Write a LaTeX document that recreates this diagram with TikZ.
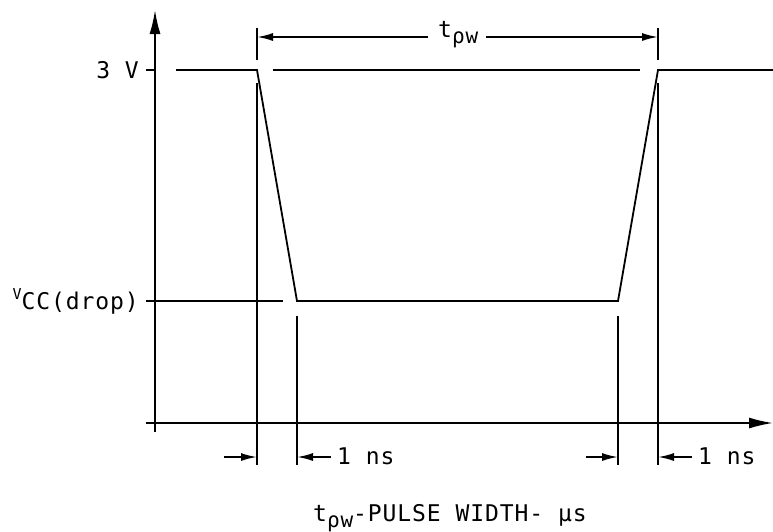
\documentclass[tikz,border=0pt]{standalone}
\usepackage{fontspec}
\setmonofont[LetterSpace=4]{DejaVu Sans Mono}
\usetikzlibrary{arrows.meta}
\tikzset{
  ln/.style={line width=1.8pt, line cap=butt},
  dimarr/.style={ln, -{Latex[length=16pt,width=8pt]}},
  axarr/.style={ln, -{Latex[length=24pt,width=11pt]}},
  lbl/.style={inner sep=0pt, font=\ttfamily\fontsize{23}{23}\selectfont},
}
\newcommand{\subpw}{\raisebox{-6pt}{\fontsize{21}{21}\selectfont ρw}}
\begin{document}
\begin{tikzpicture}[x=1pt,y=-1pt]
\useasboundingbox (0,0) rectangle (773,531);
% axes
\coordinate (yb) at (155,432);
\coordinate (yt) at (155,10);
\coordinate (xl) at (146,423);
\coordinate (xr) at (773,423);
\draw[axarr] (yb) -- (yt);
\draw[axarr] (xl) -- (xr);
% ticks
\coordinate (t3a) at (146,70); \coordinate (t3b) at (155,70);
\coordinate (tva) at (146,301); \coordinate (tvb) at (155,301);
\draw[ln] (t3a) -- (t3b);
\draw[ln] (tva) -- (tvb);
\node[lbl, anchor=base east] (l3v) at (139,78) {3 V};
\node[lbl, anchor=base east] (lvcc) at (139,309) {\raisebox{10pt}{\fontsize{15}{15}\selectfont V}CC(drop)};
% waveform
\coordinate (a0) at (176,70);
\coordinate (a1) at (257,70);
\coordinate (a2) at (297,301);
\coordinate (a3) at (618,301);
\coordinate (a4) at (658,70);
\coordinate (a5) at (773,70);
\draw[ln] (a0) -- (a1) -- (a2) -- (a3) -- (a4) -- (a5);
% reference levels
\coordinate (h1) at (273,70); \coordinate (h2) at (640,70);
\draw[ln] (h1) -- (h2);
\coordinate (v1) at (155,301); \coordinate (v2) at (283,301);
\draw[ln] (v1) -- (v2);
% extension lines
\coordinate (e1t) at (257,28); \coordinate (e1m) at (257,60);
\coordinate (e1b) at (257,83); \coordinate (e1e) at (257,465);
\draw[ln] (e1t) -- (e1m);
\draw[ln] (e1b) -- (e1e);
\coordinate (e4t) at (658,28); \coordinate (e4m) at (658,60);
\coordinate (e4b) at (658,83); \coordinate (e4e) at (658,465);
\draw[ln] (e4t) -- (e4m);
\draw[ln] (e4b) -- (e4e);
\coordinate (e2b) at (297,316); \coordinate (e2e) at (297,465);
\draw[ln] (e2b) -- (e2e);
\coordinate (e3b) at (618,316); \coordinate (e3e) at (618,465);
\draw[ln] (e3b) -- (e3e);
% tpw dimension
\node[lbl, anchor=base west] (tpw) at (438,37) {t\subpw};
\coordinate (d1) at (257,37); \coordinate (d2) at (658,37);
\coordinate (g1) at (428,37); \coordinate (g2) at (486,37);
\draw[dimarr] (g1) -- (d1);
\draw[dimarr] (g2) -- (d2);
% 1 ns dimensions
\coordinate (n1a) at (224,457); \coordinate (n1b) at (257,457);
\draw[dimarr] (n1a) -- (n1b);
\coordinate (n2a) at (331,457); \coordinate (n2b) at (297,457);
\draw[dimarr] (n2a) -- (n2b);
\node[lbl, anchor=base west] (ns1) at (337,464) {1 ns};
\coordinate (n3a) at (586,457); \coordinate (n3b) at (618,457);
\draw[dimarr] (n3a) -- (n3b);
\coordinate (n4a) at (692,457); \coordinate (n4b) at (658,457);
\draw[dimarr] (n4a) -- (n4b);
\node[lbl, anchor=base west] (ns2) at (698,464) {1 ns};
% axis label
\node[lbl, anchor=base west] (xlab) at (313,521) {t\subpw-PULSE WIDTH- μs};
\end{tikzpicture}
\end{document}
